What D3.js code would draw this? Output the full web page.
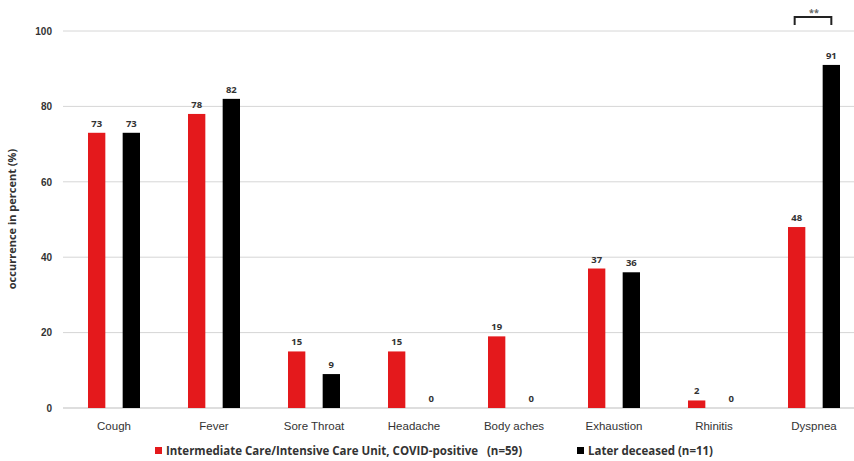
<!DOCTYPE html>
<html><head><meta charset="utf-8">
<script src="https://cdn.jsdelivr.net/npm/d3@7"></script>
<style>body{margin:0;background:#fff;} svg{display:block;font-family:"Open Sans","Liberation Sans",sans-serif;}</style>
</head><body>
<svg id="c" width="854" height="461"></svg>
<script>
const categories = ["Cough","Fever","Sore Throat","Headache","Body aches","Exhaustion","Rhinitis","Dyspnea"];
const icuValues = [73,78,15,15,19,37,2,48];
const deceasedValues = [73,82,9,0,0,36,0,91];
const yTicks = [0,20,40,60,80,100];
const seriesNames = ["Intermediate Care/Intensive Care Unit, COVID-positive   (n=59)","Later deceased (n=11)"];
const colors = ["#e4191c","#000000"];

const svg = d3.select("#c");
const y = d3.scaleLinear().domain([0,100]).range([408,31]);
const x = d3.scaleBand().domain(categories).range([64,864]);
const sub = d3.scaleBand().domain([0,1]).range([-26,26]).paddingInner(0.5);

// gridlines
svg.append("g").selectAll("line").data(yTicks).join("line")
  .attr("x1",63).attr("x2",854).attr("y1",d=>y(d)).attr("y2",d=>y(d))
  .attr("stroke",d=>d===0?"#bdbdbd":"#d6d6d6").attr("stroke-width",1);

// y axis
const yAxis = d3.axisLeft(y).tickValues(yTicks).tickSize(0).tickPadding(8);
const ga = svg.append("g").attr("transform","translate(56,0)").call(yAxis);
ga.select(".domain").remove();
ga.selectAll("text").attr("font-size",10).attr("font-weight","bold").attr("fill","#333").attr("x",-4);

svg.append("text").attr("transform","translate(16,219) rotate(-90)").attr("text-anchor","middle")
  .attr("font-size",11).attr("font-weight","bold").attr("fill","#333").text("occurrence in percent (%)");

// x axis labels
const xAxis = d3.axisBottom(x).tickSize(0).tickPadding(10);
const gx = svg.append("g").attr("transform","translate(0,412)").call(xAxis);
gx.select(".domain").remove();
gx.selectAll("text").attr("font-size",11.5).attr("fill","#333");

const series = [icuValues, deceasedValues];
series.forEach((vals,si)=>{
  const g = svg.append("g");
  g.selectAll("rect").data(vals).join("rect")
    .attr("x",(d,i)=>x(categories[i])+x.bandwidth()/2+sub(si))
    .attr("width",sub.bandwidth())
    .attr("y",d=>y(d)).attr("height",d=>y(0)-y(d))
    .attr("fill",colors[si]);
  g.selectAll("text").data(vals).join("text")
    .attr("x",(d,i)=>x(categories[i])+x.bandwidth()/2+sub(si)+sub.bandwidth()/2)
    .attr("y",d=>y(d)-6).attr("text-anchor","middle")
    .attr("font-size",9.5).attr("font-weight","bold").attr("fill","#333").text(d=>d);
});

// significance bracket on Dyspnea
const dc = x("Dyspnea")+x.bandwidth()/2;
const bx1 = dc+sub(0)+sub.bandwidth()/2, bx2 = dc+sub(1)+sub.bandwidth()/2;
svg.append("path").attr("d",`M${bx1-2},25 V17 H${bx2} V25`).attr("fill","none").attr("stroke","#222").attr("stroke-width",2);
svg.append("text").attr("x",(bx1+bx2)/2).attr("y",16).attr("text-anchor","middle")
  .attr("font-size",9).attr("font-weight","bold").attr("fill","#666").text("**");

// legend
const legend = svg.append("g").attr("font-size",11.5).attr("font-weight","bold").attr("fill","#333");
const lx = [155,577];
seriesNames.forEach((n,i)=>{
  legend.append("rect").attr("x",lx[i]).attr("y",447).attr("width",7).attr("height",7).attr("fill",colors[i]);
  legend.append("text").attr("x",lx[i]+11).attr("y",455).attr("fill","#333")
    .style("white-space","pre").text(n);
});
</script>
</body></html>
